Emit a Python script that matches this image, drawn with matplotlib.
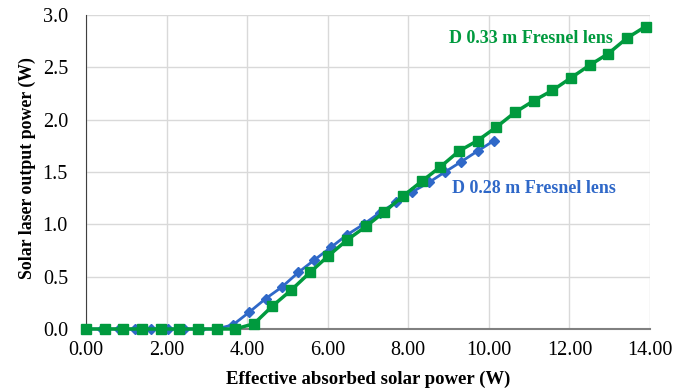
import matplotlib
matplotlib.use("Agg")
import matplotlib.pyplot as plt
import numpy as np

# D 0.28 m Fresnel lens (blue)
x_028 = [0.00, 0.41, 0.81, 1.22, 1.62, 2.03, 2.43, 2.84, 3.24, 3.65, 4.05, 4.46, 4.86,
         5.27, 5.67, 6.08, 6.48, 6.89, 7.29, 7.70, 8.10, 8.51, 8.91, 9.32, 9.72, 10.13]
y_028 = [0.00, 0.00, 0.00, 0.00, 0.00, 0.00, 0.00, 0.00, 0.00, 0.04, 0.16, 0.29, 0.40,
         0.54, 0.66, 0.78, 0.90, 1.00, 1.11, 1.21, 1.31, 1.40, 1.50, 1.60, 1.70, 1.80]

# D 0.33 m Fresnel lens (green)
x_033 = [0.00, 0.46, 0.93, 1.39, 1.85, 2.32, 2.78, 3.24, 3.70, 4.17, 4.63, 5.09, 5.56,
         6.02, 6.48, 6.95, 7.41, 7.87, 8.33, 8.80, 9.26, 9.72, 10.19, 10.65, 11.11,
         11.58, 12.04, 12.50, 12.96, 13.43, 13.89]
y_033 = [0.00, 0.00, 0.00, 0.00, 0.00, 0.00, 0.00, 0.00, 0.00, 0.05, 0.22, 0.37, 0.54,
         0.70, 0.85, 0.98, 1.12, 1.27, 1.41, 1.55, 1.70, 1.80, 1.93, 2.07, 2.18,
         2.28, 2.40, 2.52, 2.63, 2.78, 2.89]

x_ticks = [0, 2, 4, 6, 8, 10, 12, 14]
y_ticks = [0.0, 0.5, 1.0, 1.5, 2.0, 2.5, 3.0]

label_028 = "D 0.28 m Fresnel lens"
label_033 = "D 0.33 m Fresnel lens"
xlabel = "Effective absorbed solar power (W)"
ylabel = "Solar laser output power (W)"

blue = "#2F68C8"
green = "#009A3E"

plt.rcParams['font.family'] = ['Liberation Serif', 'DejaVu Serif']

fig = plt.figure(figsize=(6.9, 3.91), dpi=100)
ax = fig.add_axes([0.1246, 0.1586, 0.8174, 0.803])

ax.plot(x_028, y_028, color=blue, lw=2, marker='D', ms=5, zorder=3, clip_on=False)
ax.plot(x_033, y_033, color=green, lw=2.5, marker='s', ms=7, zorder=4, clip_on=False)

ax.set_xlim(0, 14)
ax.set_ylim(0, 3.0)
ax.set_xticks(x_ticks)
ax.set_xticklabels([f"{v:.2f}" for v in x_ticks])
ax.set_yticks(y_ticks)
ax.set_yticklabels([f"{v:.1f}" for v in y_ticks])
ax.tick_params(axis='both', labelsize=14.5, length=0)
ax.tick_params(axis='x', pad=9)
ax.tick_params(axis='y', pad=13)
ax.grid(True, color='#d9d9d9', lw=1)
ax.set_axisbelow(True)
for s in ['top', 'right']:
    ax.spines[s].set_visible(False)
ax.spines['left'].set_color('#404040')
ax.spines['bottom'].set_color('#808080')
ax.spines['bottom'].set_linewidth(1.5)

ax.set_xlabel(xlabel, fontsize=13.5, fontweight='bold', labelpad=7)
ax.set_ylabel(ylabel, fontsize=12.8, fontweight='bold', labelpad=8)
ax.yaxis.set_label_coords(-0.088, 0.514)

ax.text(9.0, 2.78, label_033, color=green, fontsize=13, fontweight='bold', va='center', ha='left')
ax.text(9.08, 1.34, label_028, color=blue, fontsize=13, fontweight='bold', va='center', ha='left')

fig.savefig("out.png", dpi=100)
